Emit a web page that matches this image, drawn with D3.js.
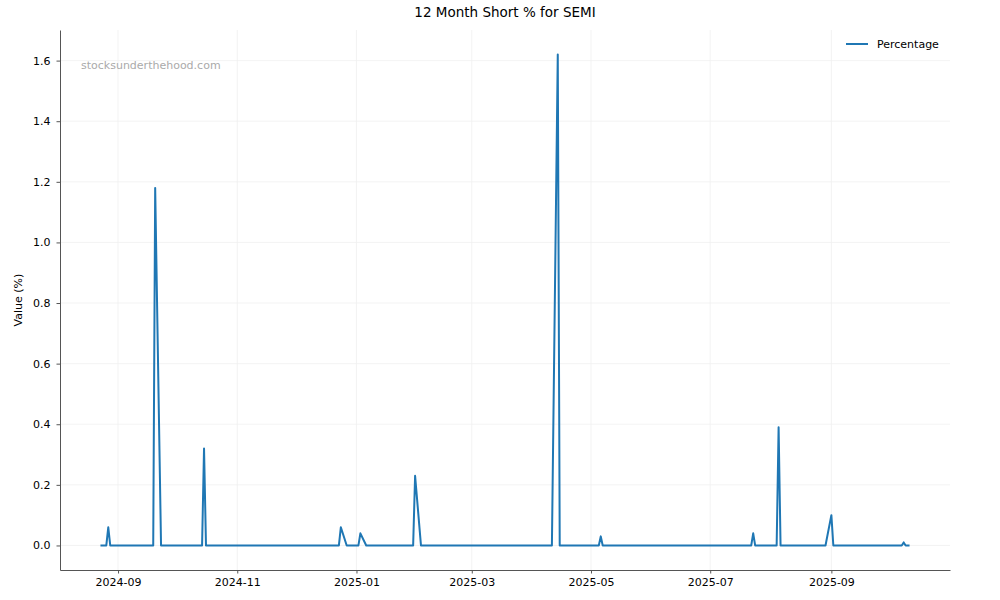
<!DOCTYPE html>
<html>
<head>
<meta charset="utf-8">
<script src="https://cdn.jsdelivr.net/npm/d3@7"></script>
<style>
  body { margin: 0; background: #fff; }
  svg text { font-family: "DejaVu Sans", sans-serif; }
</style>
</head>
<body>
<div id="chart"></div>
<script>
// 12 month short % for SEMI (dates where the series changes, zeros in between)
const dates = [
    "2024-08-23", "2024-08-26", "2024-08-27", "2024-08-28",
    "2024-09-19", "2024-09-20", "2024-09-23",
    "2024-10-14", "2024-10-15", "2024-10-16",
    "2024-12-23", "2024-12-24", "2024-12-27",
    "2025-01-02", "2025-01-03", "2025-01-06",
    "2025-01-30", "2025-01-31", "2025-02-03",
    "2025-04-11", "2025-04-14", "2025-04-15",
    "2025-05-05", "2025-05-06", "2025-05-07",
    "2025-07-22", "2025-07-23", "2025-07-24",
    "2025-08-04", "2025-08-05", "2025-08-06",
    "2025-08-29", "2025-09-01", "2025-09-02",
    "2025-10-07", "2025-10-08", "2025-10-09", "2025-10-11"
]
const percentage = [
    0, 0, 0.06, 0,
    0, 1.18, 0,
    0, 0.32, 0,
    0, 0.06, 0,
    0, 0.04, 0,
    0, 0.23, 0,
    0, 1.62, 0,
    0, 0.03, 0,
    0, 0.04, 0,
    0, 0.39, 0,
    0, 0.10, 0,
    0, 0.01, 0, 0
]
const yTicks = [0, 0.2, 0.4, 0.6, 0.8, 1.0, 1.2, 1.4, 1.6]
const xTicks = ["2024-09-01", "2024-11-01", "2025-01-01", "2025-03-01", "2025-05-01", "2025-07-01", "2025-09-01"]

function renderLineChart(frame_id) {
    let width = 1000
    let height = 600
    let margin = { top: 30, right: 50, bottom: 30, left: 60 }

    const parse = d3.utcParse("%Y-%m-%d")
    const data = dates.map((d, i) => ({ date: parse(d), value: percentage[i] }))

    const svg = d3.select("#" + frame_id)
        .append("svg")
        .attr("width", width)
        .attr("height", height)

    // matplotlib style 5% padding on both axes
    const xExt = d3.extent(data, d => d.date)
    const xPad = (xExt[1] - xExt[0]) * 0.05
    const yMax = d3.max(data, d => d.value)
    const yPad = yMax * 0.05

    const x = d3.scaleUtc()
        .domain([new Date(+xExt[0] - xPad), new Date(+xExt[1] + xPad)])
        .range([margin.left, width - margin.right])

    const y = d3.scaleLinear()
        .domain([-yPad, yMax + yPad])
        .range([height - margin.bottom, margin.top])

    // grid
    svg.append("g")
        .selectAll("line")
        .data(yTicks)
        .enter()
        .append("line")
        .attr("x1", margin.left)
        .attr("x2", width - margin.right)
        .attr("y1", d => y(d))
        .attr("y2", d => y(d))
        .attr("stroke", "#f0f0f0")
        .attr("stroke-width", 0.8)

    svg.append("g")
        .selectAll("line")
        .data(xTicks.map(parse))
        .enter()
        .append("line")
        .attr("x1", d => x(d))
        .attr("x2", d => x(d))
        .attr("y1", margin.top)
        .attr("y2", height - margin.bottom)
        .attr("stroke", "#f0f0f0")
        .attr("stroke-width", 0.8)

    // axes (tickSize first, it also sets the outer size)
    const xAxis = svg.append("g")
        .attr("transform", `translate(0,${height - margin.bottom})`)
        .call(d3.axisBottom(x)
            .tickValues(xTicks.map(parse))
            .tickFormat(d3.utcFormat("%Y-%m"))
            .tickSize(3.5)
            .tickSizeOuter(0)
            .tickPadding(5))

    const yAxis = svg.append("g")
        .attr("transform", `translate(${margin.left},0)`)
        .call(d3.axisLeft(y)
            .tickValues(yTicks)
            .tickFormat(d3.format(".1f"))
            .tickSize(3.5)
            .tickSizeOuter(0)
            .tickPadding(6))

    for (const ax of [xAxis, yAxis]) {
        ax.select(".domain").attr("stroke", "#555").attr("stroke-width", 1)
        ax.selectAll(".tick line").attr("stroke", "#555")
        ax.selectAll(".tick text")
            .attr("fill", "#000")
            .style("font-size", "11px")
            .style("font-family", "DejaVu Sans")
    }

    // the series
    const line = d3.line()
        .x(d => x(d.date))
        .y(d => y(d.value))

    svg.append("path")
        .datum(data)
        .attr("d", line)
        .attr("fill", "none")
        .attr("stroke", "#1f77b4")
        .attr("stroke-width", 2)
        .attr("stroke-linejoin", "round")

    // title, labels, watermark
    svg.append("text")
        .attr("x", (margin.left + width - margin.right) / 2)
        .attr("y", 17)
        .attr("text-anchor", "middle")
        .style("font-size", "13.5px")
        .text("12 Month Short % for SEMI")

    svg.append("text")
        .attr("transform", `translate(22,${(margin.top + height - margin.bottom) / 2}) rotate(-90)`)
        .attr("text-anchor", "middle")
        .style("font-size", "11px")
        .text("Value (%)")

    svg.append("text")
        .attr("x", 81)
        .attr("y", 69)
        .attr("fill", "#aaa")
        .style("font-size", "11px")
        .text("stocksunderthehood.com")

    // legend
    const legend = svg.append("g")
        .attr("transform", "translate(846,44)")

    legend.append("line")
        .attr("x1", 0)
        .attr("x2", 22)
        .attr("stroke", "#1f77b4")
        .attr("stroke-width", 2)

    legend.append("text")
        .attr("x", 31)
        .attr("y", 4)
        .style("font-size", "11px")
        .text("Percentage")
}

document.addEventListener("DOMContentLoaded", () => {
    renderLineChart("chart")
})
</script>
</body>
</html>
